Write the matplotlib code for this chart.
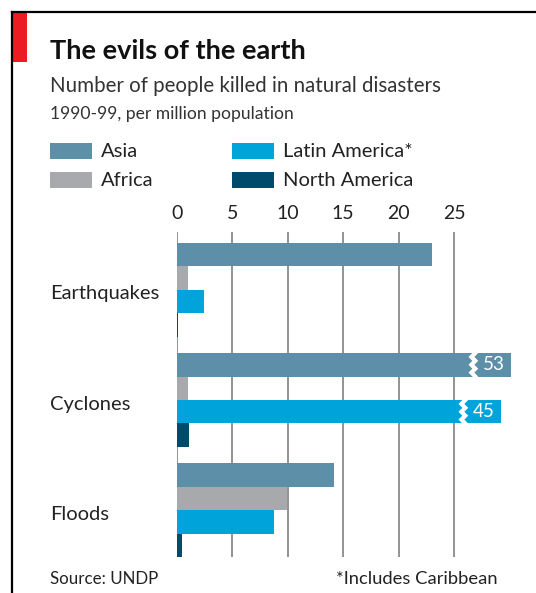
import numpy as np
import matplotlib.pyplot as plt
from matplotlib.patches import Rectangle
from matplotlib.lines import Line2D

W, H = 536, 593

disasters = ['Earthquakes', 'Cyclones', 'Floods']
regions = ['Asia', 'Africa', 'Latin America*', 'North America']
asia = [23.0, 53, 14.2]
africa = [1.05, 1.05, 9.9]
latin = [2.45, 45, 8.8]
north_am = [0.15, 1.1, 0.5]
ticks = [0, 5, 10, 15, 20, 25]

# bars longer than the scale are cut and labelled
cut_len = {53: 30.1, 45: 29.2}

colors = ['#5e8fa8', '#a7a9ac', '#00a3da', '#004b6b']
plt.rcParams['font.family'] = ['Lato', 'DejaVu Sans']

fig = plt.figure(figsize=(W / 100, H / 100), dpi=100)

def fx(px):
    return px / W

def fy(py):
    return 1 - py / H

# frame and red tab
fig.add_artist(Line2D([fx(12), fx(12)], [fy(12), 0], color='black', lw=1.6))
fig.add_artist(Line2D([fx(12), 1], [fy(12), fy(12)], color='black', lw=1.6))
fig.add_artist(Rectangle((fx(12.5), fy(62)), fx(14), fy(13) - fy(62), color='#ed1c24', lw=0))

# titles
fig.text(fx(50), fy(51), 'The evils of the earth', fontsize=19.5, fontweight='bold',
         color='#111111', va='center')
fig.text(fx(50), fy(86), 'Number of people killed in natural disasters', fontsize=14.8,
         color='#333333', va='center')
fig.text(fx(50), fy(114), '1990-99, per million population', fontsize=12.6,
         color='#333333', va='center')

# legend
leg_pos = [(50, 151), (50, 180), (232, 151), (232, 180)]
for (lx, ly), name, c in zip(leg_pos, regions, colors):
    fig.add_artist(Rectangle((fx(lx), fy(ly + 8)), fx(42), fy(ly - 8) - fy(ly + 8), color=c, lw=0))
    fig.text(fx(lx + 51), fy(ly + 1), name, fontsize=14.5, color='#222222', va='center')

# axes: 0 at x=176.7px, 11.1 px per unit
x0, ppu = 176.7, 11.1
xmax = 31.0
ax = fig.add_axes([fx(x0), fy(557), xmax * ppu / W, (557 - 232) / H])

h = 0.2136
y = np.arange(len(disasters))
series = [asia, africa, latin, north_am]
for k, (vals, c) in enumerate(zip(series, colors)):
    yy = y + (k - 1.5) * h
    shown = [cut_len.get(v, v) for v in vals]
    ax.barh(yy, shown, height=h, color=c, zorder=3)
    for yi, v, s in zip(yy, vals, shown):
        if v in cut_len:
            brk = s - 3.2
            zy = np.linspace(yi - h / 2, yi + h / 2, 7)
            zx = brk + np.array([0, -0.35, 0, -0.35, 0, -0.35, 0])
            ax.plot(zx, zy, color='white', lw=3, zorder=4, solid_joinstyle='miter')
            ax.text(s - 1.5, yi, str(v), color='white', fontsize=13.5,
                    ha='center', va='center', zorder=5)

ax.set_xlim(0, xmax)
ax.set_ylim(2 + 2 * h, -2 * h - 0.1)
ax.set_xticks(ticks)
ax.xaxis.tick_top()
ax.tick_params(axis='x', length=0, pad=7, labelsize=14, labelcolor='#222222')
ax.set_yticks([])
ax.grid(axis='x', color='#808080', lw=1.2, zorder=0)
ax.set_axisbelow(True)
for s in ax.spines.values():
    s.set_visible(False)

# category labels
for i, name in enumerate(disasters):
    py = 232 + (i + 2 * h + 0.1) * (557 - 232) / (2 + 4 * h + 0.1) + 4
    fig.text(fx(50), fy(py), name, fontsize=14.5, color='#222222', va='center')

# footer
fig.text(fx(50), fy(579), 'Source: UNDP', fontsize=12.2, color='#222222', va='center')
fig.text(fx(498), fy(579), '*Includes Caribbean', fontsize=13.2, color='#222222',
         va='center', ha='right')

fig.savefig('out.png', dpi=100)
